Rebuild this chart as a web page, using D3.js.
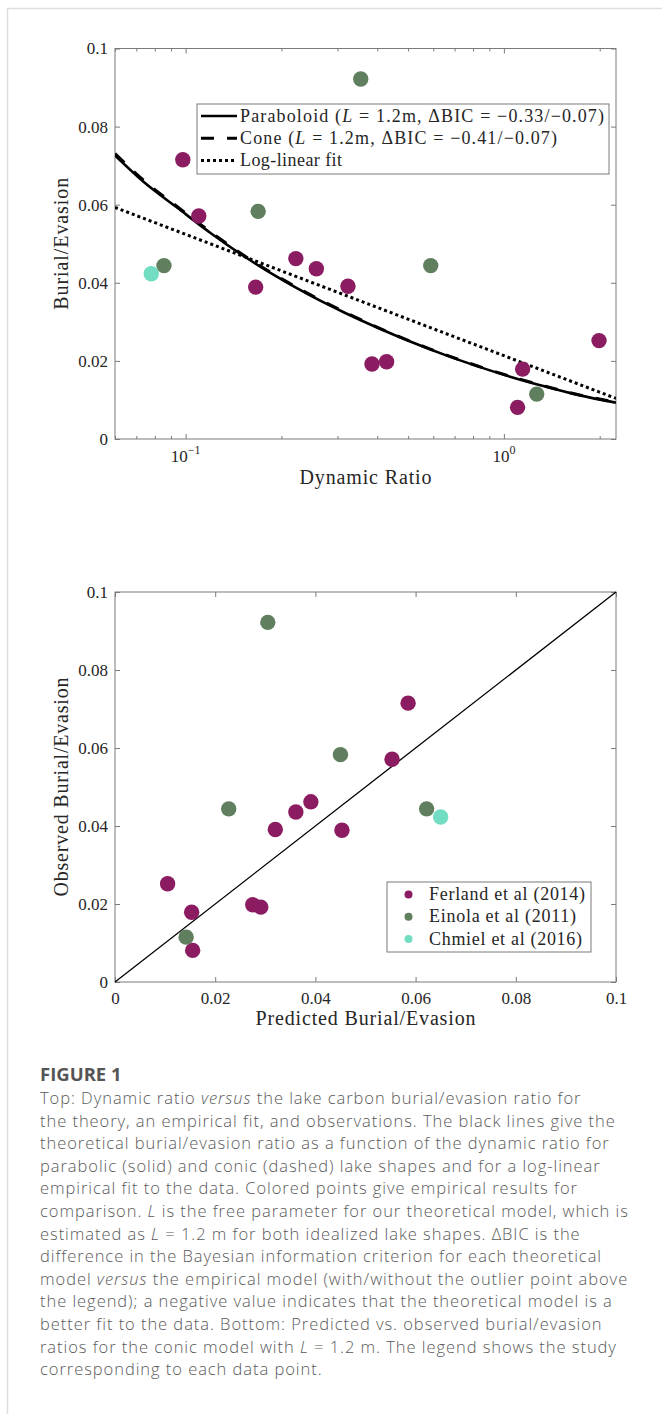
<!DOCTYPE html>
<html lang="en">
<head>
<meta charset="UTF-8" />
<title>Burial/Evasion vs Dynamic Ratio</title>
<script src="https://cdn.jsdelivr.net/npm/d3@7"></script>
<style>
  body { margin: 0; background: #fff; }
  #svg text { font-family: "Liberation Serif", serif; fill: #262626; }
  #svg .caption text { font-family: "Open Sans", sans-serif; fill: #5a5a5a; }
</style>
</head>
<body>
<svg id="svg" width="662" height="1414"></svg>
<script>
// studies
const studies = ["Ferland et al (2014)", "Einola et al (2011)", "Chmiel et al (2016)"];
const studyColors = ["#8b1c62", "#5f7f5f", "#73ddc3"];

// one entry per lake (same order in every array)
const pointStudy   = [0, 0, 0, 0, 0, 0, 0, 0, 0, 0, 0, 1, 1, 1, 1, 1, 2];
const dynamicRatio = [0.098, 0.110, 0.166, 0.222, 0.2575, 0.3236, 0.385, 0.428, 1.145, 1.104, 1.99, 0.355, 0.169, 0.0855, 0.589, 1.268, 0.078];
const observedBE   = [0.0715, 0.0571, 0.0389, 0.0462, 0.0436, 0.0391, 0.0192, 0.0198, 0.0179, 0.0081, 0.0252, 0.0922, 0.0583, 0.0444, 0.0444, 0.0115, 0.0423];
const predictedBE  = [0.0585, 0.0553, 0.0453, 0.0391, 0.0361, 0.0320, 0.0291, 0.0275, 0.0153, 0.0155, 0.0105, 0.0305, 0.0450, 0.0622, 0.0227, 0.0142, 0.0650];

// model curves
const curveDR       = [0.06, 0.0739, 0.0942, 0.120, 0.1526, 0.194, 0.247, 0.315, 0.401, 0.510, 0.649, 0.827, 1.052, 1.339, 1.705, 2.25];
const paraboloidBE  = [0.0726, 0.0658, 0.0592, 0.0527, 0.0468, 0.0415, 0.0367, 0.0324, 0.0285, 0.0249, 0.0216, 0.0186, 0.0159, 0.0135, 0.0113, 0.0093];
const coneBE        = [0.0731, 0.0662, 0.0595, 0.0530, 0.0470, 0.0417, 0.0369, 0.0326, 0.0286, 0.0250, 0.0217, 0.0187, 0.0160, 0.0136, 0.0114, 0.0094];
const logLinearDR   = [0.06, 2.25];
const logLinearBE   = [0.0593, 0.0104];
const diagonal      = [0, 0.1];

// ticks
const beTicks      = [0, 0.02, 0.04, 0.06, 0.08, 0.1];
const beTickLabels = ["0", "0.02", "0.04", "0.06", "0.08", "0.1"];
const drMajorTicks = [0.1, 1];
const drMajorExp   = ["\u22121", "0"];
const drMinorTicks = [0.06, 0.07, 0.08, 0.09, 0.2, 0.3, 0.4, 0.5, 0.6, 0.7, 0.8, 0.9, 2];

// legend of top panel: [before italic, italic, after]
const modelLegend = [
  ["Paraboloid (", "L", " = 1.2m, \u0394BIC = \u22120.33/\u22120.07)"],
  ["Cone (", "L", " = 1.2m, \u0394BIC = \u22120.41/\u22120.07)"],
  ["Log-linear fit", "", ""]
];

const captionLines = [
  "Top: Dynamic ratio *versus* the lake carbon burial/evasion ratio for",
  "the theory, an empirical fit, and observations. The black lines give the",
  "theoretical burial/evasion ratio as a function of the dynamic ratio for",
  "parabolic (solid) and conic (dashed) lake shapes and for a log-linear",
  "empirical fit to the data. Colored points give empirical results for",
  "comparison. *L* is the free parameter for our theoretical model, which is",
  "estimated as *L* = 1.2 m for both idealized lake shapes. \u0394BIC is the",
  "difference in the Bayesian information criterion for each theoretical",
  "model *versus* the empirical model (with/without the outlier point above",
  "the legend); a negative value indicates that the theoretical model is a",
  "better fit to the data. Bottom: Predicted vs. observed burial/evasion",
  "ratios for the conic model with *L* = 1.2 m. The legend shows the study",
  "corresponding to each data point."
];

const svg = d3.select("#svg")
const axisColor = "#7a7a7a"

// page frame
svg.append("path").attr("d", "M7.5,1414V8.5H662")
  .attr("fill", "none").attr("stroke", "#dedede").attr("stroke-width", 1.5)

function styleAxis(g) {
  g.select(".domain").remove()
  g.selectAll(".tick line").attr("stroke", axisColor)
  g.selectAll("text").attr("font-size", 17)
}

// ---------- top panel ----------
const T = { left: 115, right: 616, top: 48.5, bottom: 439 }
const xDR = d3.scaleLog().domain([0.06, 2.25]).range([T.left, T.right])
const yTop = d3.scaleLinear().domain([0, 0.1]).range([T.bottom, T.top])

const gTop = svg.append("g")
gTop.append("g").attr("transform", `translate(0,${T.bottom})`)
  .call(d3.axisBottom(xDR).tickValues(drMinorTicks).tickSize(-3).tickFormat("")).call(styleAxis)
gTop.append("g").attr("transform", `translate(0,${T.bottom})`)
  .call(d3.axisBottom(xDR).tickValues(drMajorTicks).tickSize(-5).tickFormat("")).call(styleAxis)
gTop.append("g").attr("transform", `translate(0,${T.top})`)
  .call(d3.axisTop(xDR).tickValues(drMinorTicks).tickSize(-3).tickFormat("")).call(styleAxis)
gTop.append("g").attr("transform", `translate(0,${T.top})`)
  .call(d3.axisTop(xDR).tickValues(drMajorTicks).tickSize(-5).tickFormat("")).call(styleAxis)
gTop.append("g").attr("transform", `translate(${T.left},0)`)
  .call(d3.axisLeft(yTop).tickValues(beTicks).tickSize(-5).tickPadding(7).tickFormat((d, i) => beTickLabels[i])).call(styleAxis)
gTop.append("g").attr("transform", `translate(${T.right},0)`)
  .call(d3.axisRight(yTop).tickValues(beTicks).tickSize(-5).tickFormat("")).call(styleAxis)

// 10^n labels
const expLabels = gTop.selectAll(".explabel").data(drMajorTicks).enter().append("text")
  .attr("class", "explabel")
  .attr("x", d => xDR(d)).attr("y", T.bottom + 23)
  .attr("text-anchor", "middle").attr("font-size", 17)
expLabels.append("tspan").text("10")
expLabels.append("tspan").attr("dy", -8).attr("font-size", 12).text((d, i) => drMajorExp[i])

gTop.append("rect").attr("x", T.left).attr("y", T.top)
  .attr("width", T.right - T.left).attr("height", T.bottom - T.top)
  .attr("fill", "none").attr("stroke", axisColor)

svg.append("clipPath").attr("id", "clipTop").append("rect")
  .attr("x", T.left).attr("y", T.top).attr("width", T.right - T.left).attr("height", T.bottom - T.top)

const lineDR = d3.line().x(d => xDR(d[0])).y(d => yTop(d[1])).curve(d3.curveMonotoneX)
const curves = gTop.append("g").attr("clip-path", "url(#clipTop)")
curves.append("path").datum(d3.zip(curveDR, paraboloidBE)).attr("d", lineDR)
  .attr("fill", "none").attr("stroke", "#000").attr("stroke-width", 2.6)
curves.append("path").datum(d3.zip(curveDR, coneBE)).attr("d", lineDR)
  .attr("fill", "none").attr("stroke", "#000").attr("stroke-width", 3).attr("stroke-dasharray", "13,13")
curves.append("path").datum(d3.zip(logLinearDR, logLinearBE)).attr("d", lineDR)
  .attr("fill", "none").attr("stroke", "#000").attr("stroke-width", 3).attr("stroke-dasharray", "3,3")

gTop.selectAll(".pt").data(d3.range(dynamicRatio.length)).enter().append("circle")
  .attr("cx", i => xDR(dynamicRatio[i])).attr("cy", i => yTop(observedBE[i]))
  .attr("r", 7.7).attr("fill", i => studyColors[pointStudy[i]])

gTop.append("text").attr("x", (T.left + T.right) / 2).attr("y", 484)
  .attr("text-anchor", "middle").attr("font-size", 20).attr("textLength", 132)
  .text("Dynamic Ratio")
gTop.append("text").attr("transform", `translate(68,${(T.top + T.bottom) / 2}) rotate(-90)`)
  .attr("text-anchor", "middle").attr("font-size", 20).attr("textLength", 132)
  .text("Burial/Evasion")

// legend (top)
const LT = { x: 197, y: 104, w: 412, h: 70 }
const legTop = gTop.append("g")
legTop.append("rect").attr("x", LT.x).attr("y", LT.y).attr("width", LT.w).attr("height", LT.h)
  .attr("fill", "#fff").attr("stroke", axisColor)
const legStyles = [
  { w: 2.6, dash: null },
  { w: 3, dash: "13,13" },
  { w: 3, dash: "3,3" }
]
const legWidths = [364, 317, 102]
modelLegend.forEach((parts, i) => {
  const cy = 116 + i * 22.3
  legTop.append("line").attr("x1", 201).attr("x2", 237).attr("y1", cy).attr("y2", cy)
    .attr("stroke", "#000").attr("stroke-width", legStyles[i].w)
    .attr("stroke-dasharray", legStyles[i].dash)
  const t = legTop.append("text").attr("x", 240).attr("y", cy + 5.5).attr("font-size", 18)
    .attr("textLength", legWidths[i]).attr("lengthAdjust", "spacing")
  t.append("tspan").text(parts[0])
  if (parts[1]) t.append("tspan").attr("font-style", "italic").text(parts[1])
  if (parts[2]) t.append("tspan").text(parts[2])
})

// ---------- bottom panel ----------
const B = { left: 115, right: 616, top: 592, bottom: 982 }
const xP = d3.scaleLinear().domain([0, 0.1]).range([B.left, B.right])
const yP = d3.scaleLinear().domain([0, 0.1]).range([B.bottom, B.top])

const gBot = svg.append("g")
gBot.append("g").attr("transform", `translate(0,${B.bottom})`)
  .call(d3.axisBottom(xP).tickValues(beTicks).tickSize(-5).tickPadding(10).tickFormat((d, i) => beTickLabels[i])).call(styleAxis)
gBot.append("g").attr("transform", `translate(0,${B.top})`)
  .call(d3.axisTop(xP).tickValues(beTicks).tickSize(-5).tickFormat("")).call(styleAxis)
gBot.append("g").attr("transform", `translate(${B.left},0)`)
  .call(d3.axisLeft(yP).tickValues(beTicks).tickSize(-5).tickPadding(7).tickFormat((d, i) => beTickLabels[i])).call(styleAxis)
gBot.append("g").attr("transform", `translate(${B.right},0)`)
  .call(d3.axisRight(yP).tickValues(beTicks).tickSize(-5).tickFormat("")).call(styleAxis)
gBot.append("rect").attr("x", B.left).attr("y", B.top)
  .attr("width", B.right - B.left).attr("height", B.bottom - B.top)
  .attr("fill", "none").attr("stroke", axisColor)

gBot.append("path").datum(diagonal)
  .attr("d", d3.line().x(d => xP(d)).y(d => yP(d)))
  .attr("fill", "none").attr("stroke", "#000").attr("stroke-width", 1.3)

gBot.selectAll(".pt").data(d3.range(predictedBE.length)).enter().append("circle")
  .attr("cx", i => xP(predictedBE[i])).attr("cy", i => yP(observedBE[i]))
  .attr("r", 7.7).attr("fill", i => studyColors[pointStudy[i]])

gBot.append("text").attr("x", (B.left + B.right) / 2).attr("y", 1025)
  .attr("text-anchor", "middle").attr("font-size", 20).attr("textLength", 220)
  .text("Predicted Burial/Evasion")
gBot.append("text").attr("transform", `translate(68,${(B.top + B.bottom) / 2}) rotate(-90)`)
  .attr("text-anchor", "middle").attr("font-size", 20).attr("textLength", 219)
  .text("Observed Burial/Evasion")

// legend (bottom)
const legBot = gBot.append("g")
legBot.append("rect").attr("x", 387).attr("y", 882).attr("width", 204).attr("height", 70)
  .attr("fill", "#fff").attr("stroke", axisColor)
const studyWidths = [156, 147, 153]
studies.forEach((s, i) => {
  const cy = 894.5 + i * 22.3
  legBot.append("circle").attr("cx", 408.5).attr("cy", cy).attr("r", 4).attr("fill", studyColors[i])
  legBot.append("text").attr("x", 429).attr("y", cy + 5.5).attr("font-size", 18)
    .attr("textLength", studyWidths[i]).attr("lengthAdjust", "spacing").text(s)
})

// ---------- caption ----------
const cap = svg.append("g").attr("class", "caption")
cap.append("text").attr("x", 40).attr("y", 1081).attr("font-size", 18.5)
  .attr("font-weight", 700).style("fill", "#555").text("FIGURE 1")
captionLines.forEach((line, i) => {
  const t = cap.append("text").attr("x", 40).attr("y", 1104 + i * 22.6).attr("font-size", 16.5)
    .attr("font-weight", 300).attr("letter-spacing", 0.95)
  line.split("*").forEach((seg, j) => {
    if (seg) t.append("tspan").attr("font-style", j % 2 ? "italic" : null).text(seg)
  })
})
</script>
</body>
</html>
